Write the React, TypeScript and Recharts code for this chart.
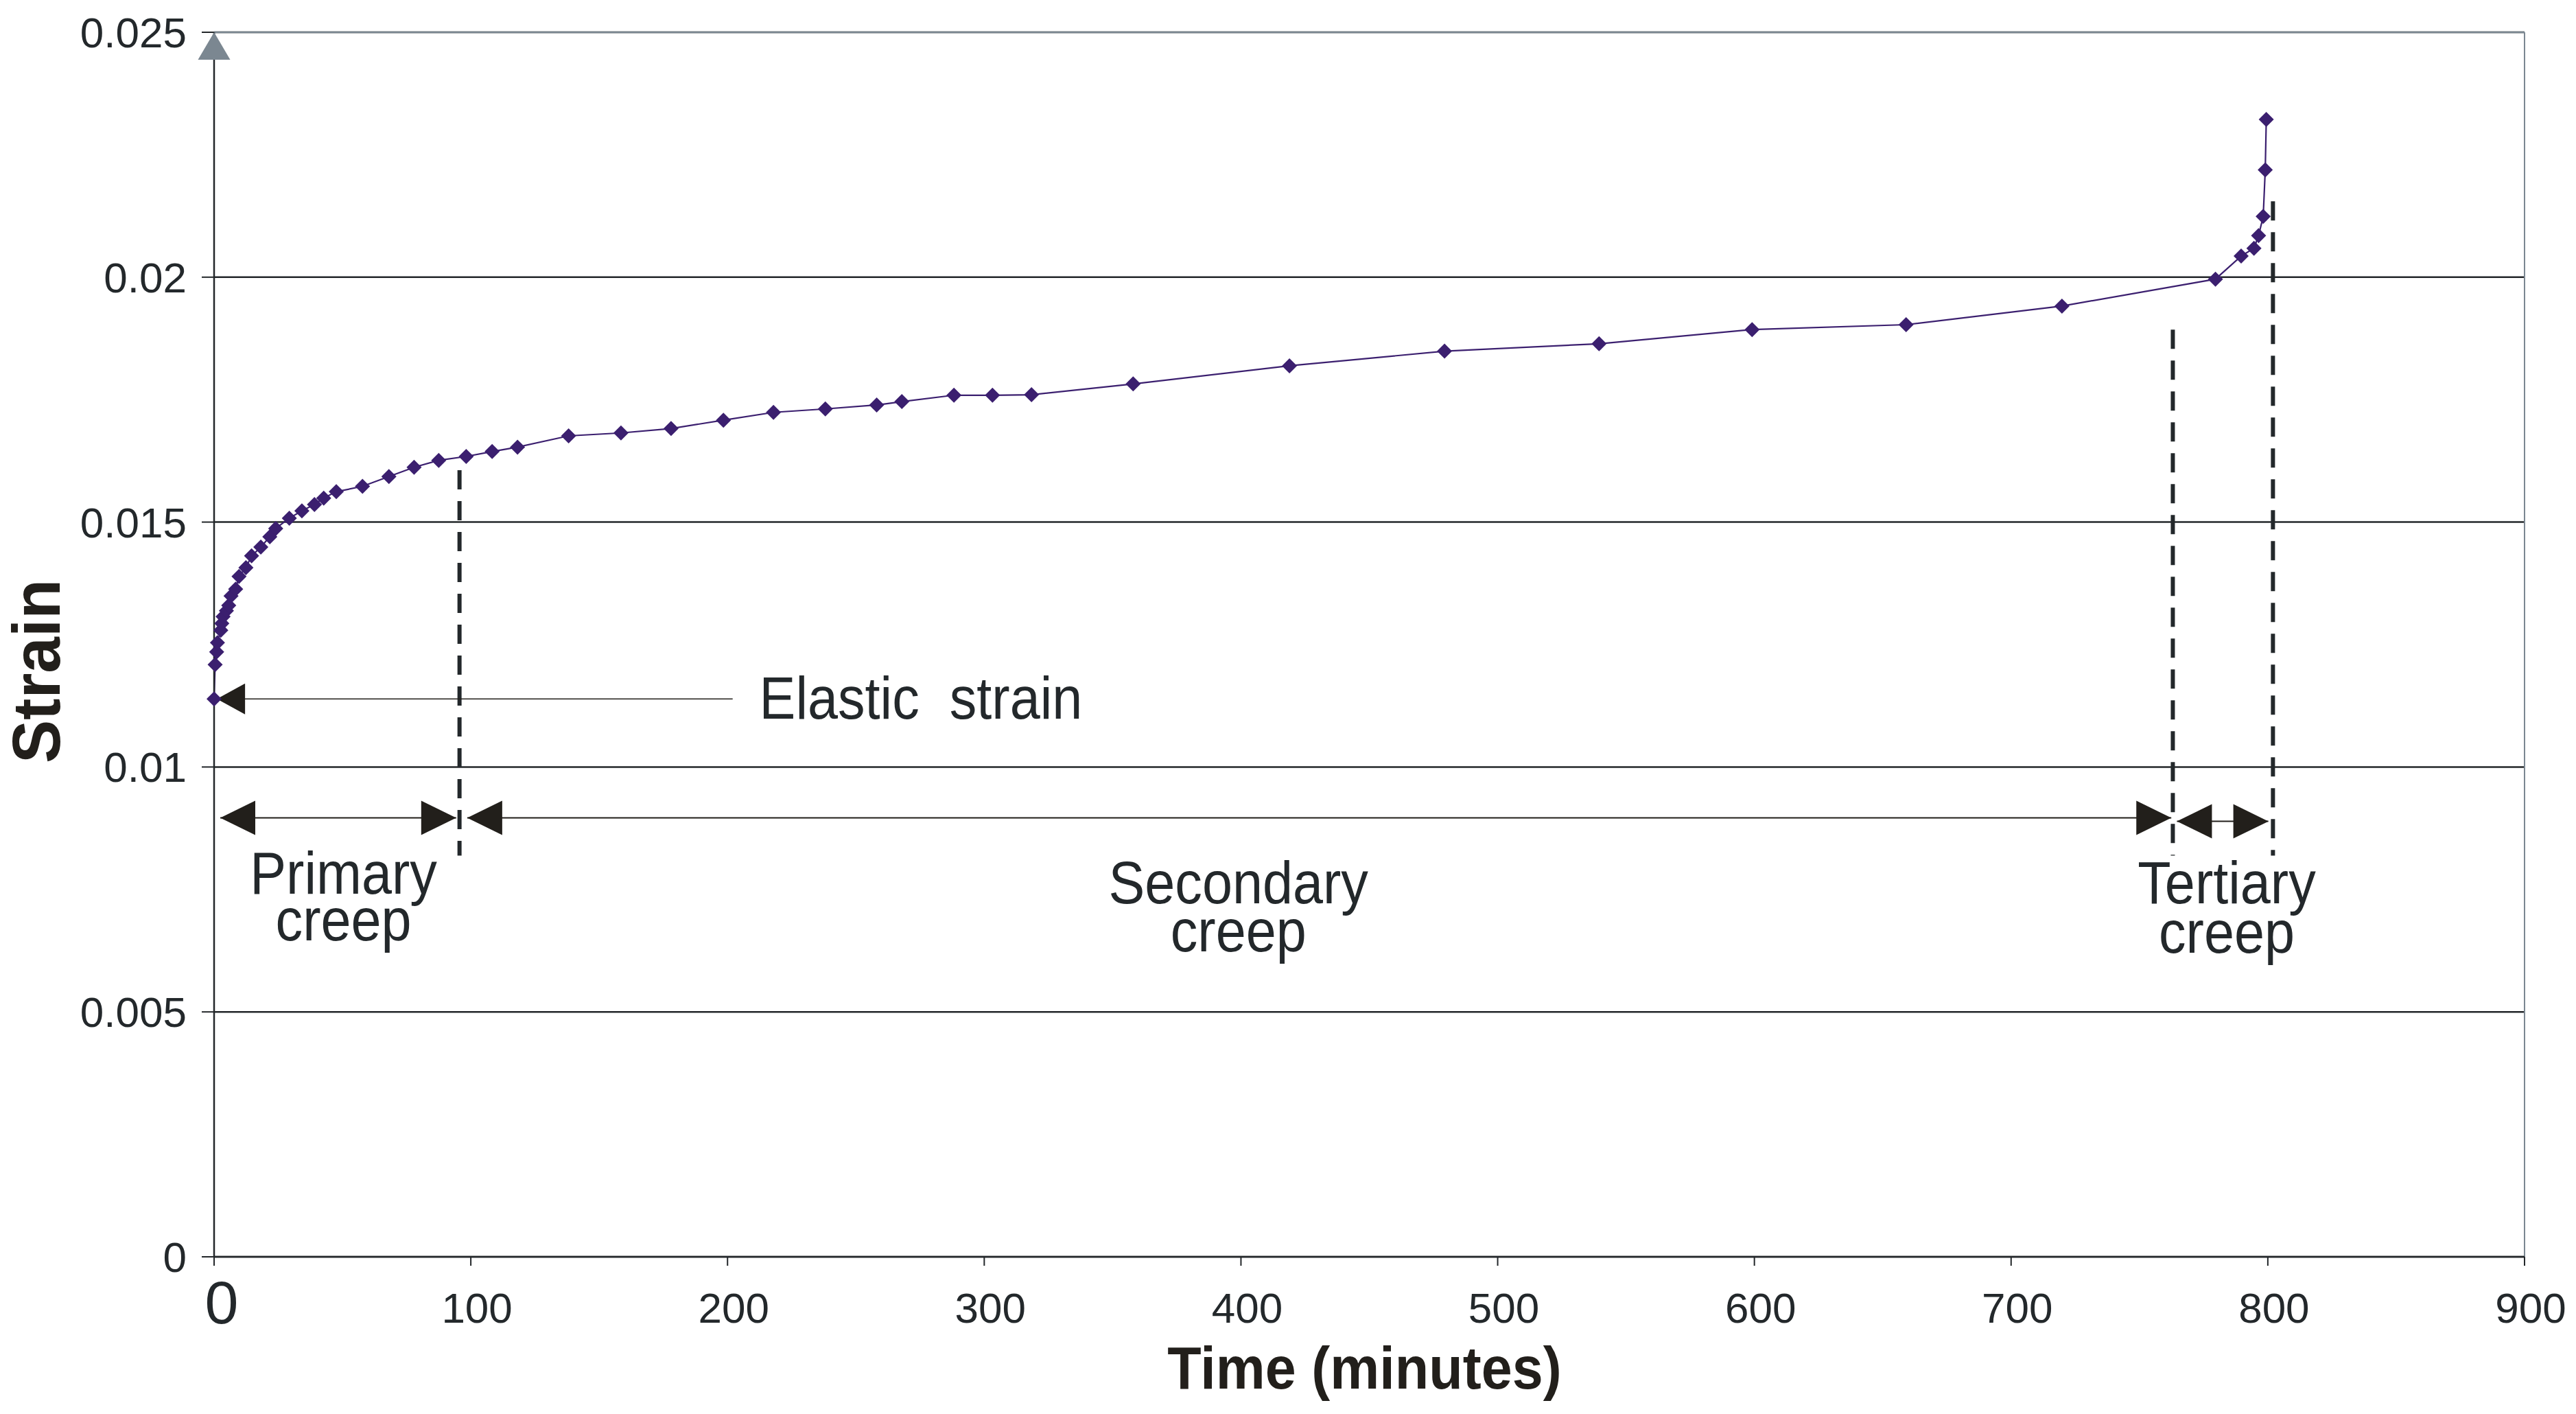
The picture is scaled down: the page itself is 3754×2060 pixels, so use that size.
import React from 'react';
import {
  ComposedChart,
  Line,
  XAxis,
  YAxis,
  CartesianGrid,
  ReferenceLine,
  ReferenceDot,
} from 'recharts';

// ---------- data ----------
const timeMinutes = [
  0, 0.4, 1.0, 1.3, 2.6, 3.0, 3.5, 4.8, 5.7, 6.6,
  8.4, 9.7, 12.4, 14.6, 18.2, 21.7, 24.0, 29.3, 34.2, 39.1,
  42.7, 47.6, 57.8, 68.1, 77.9, 87.5, 98.2, 108.3, 118.2, 138.1,
  158.5, 178.0, 198.4, 217.9, 238.1, 258.1, 267.9, 288.2, 303.2, 318.4,
  358.0, 418.9, 479.3, 539.5, 599.1, 659.1, 719.8, 779.6, 789.6, 794.6,
  796.4, 798.2, 799.0, 799.4,
];
const strainValues = [
  0.01139, 0.01209, 0.01235, 0.01254, 0.01279, 0.01293, 0.01307, 0.01319, 0.0133, 0.01349,
  0.01363, 0.01389, 0.01407, 0.01431, 0.01449, 0.0147, 0.01487, 0.01508, 0.01523, 0.01536,
  0.01549, 0.01562, 0.01573, 0.01593, 0.01612, 0.01626, 0.01634, 0.01644, 0.01653, 0.01676,
  0.01682, 0.01691, 0.01708, 0.01724, 0.01731, 0.01739, 0.01746, 0.01759, 0.01759, 0.0176,
  0.01782, 0.01819, 0.01849, 0.01864, 0.01893, 0.01903, 0.01941, 0.01996, 0.02043, 0.02059,
  0.02085, 0.02124, 0.02219, 0.02322,
];
const xTicks = [0, 100, 200, 300, 400, 500, 600, 700, 800, 900];
const yTicks = [0, 0.005, 0.01, 0.015, 0.02, 0.025];

// phase boundaries (dashed lines)
const boundaryTime = [95.6, 763, 802];
const boundaryTopStrain = [0.01606, 0.01893, 0.02155];
const boundaryBottomStrain = 0.00819;

// elastic strain pointer
const elasticStrain = 0.01139;
const elasticLineFrom = 1.1;
const elasticLineTo = 202;
const elasticText = 'Elastic  strain';
const elasticTextTime = 212.4;
const elasticTextStrain = 0.01098;

// phase arrows
const phaseFrom = [2.4, 98.6, 764.6];
const phaseTo = [94.3, 762.4, 800.2];
const phaseArrowStrain = [0.00896, 0.00896, 0.00889];
const phaseTitles = ['Primary', 'Secondary', 'Tertiary'];
const phaseSubtitle = 'creep';
const phaseTextTime = [50.4, 399, 784];
const phaseLine1Strain = [0.007417, 0.007217, 0.007217];
const phaseLine2Strain = [0.00646, 0.006236, 0.006208];

// arrow heads: tip positions and direction
const arrowTime = [1.1, 2.4, 94.3, 98.6, 762.4, 764.6, 800.2];
const arrowStrain = [0.01139, 0.00896, 0.00896, 0.00896, 0.00896, 0.00889, 0.00889];
const arrowDir = ['left', 'left', 'right', 'left', 'right', 'left', 'right'];

const chartData = timeMinutes.map((t, i) => ({ t, strain: strainValues[i] }));

// ---------- styles ----------
const FONT = '"Liberation Sans", Arial, Helvetica, sans-serif';
const INK = '#23282b';
const ARROW_INK = '#221f1b';
const SERIES = '#3b1f6f';
const BORDER = '#7b8791';
const GRID = '#23272a';

function Diamond(props: any) {
  const { cx, cy, index } = props;
  if (cx == null || cy == null) return <g key={`d${index}`} />;
  const r = 11;
  return (
    <path
      key={`d${index}`}
      d={`M${cx},${cy - r}L${cx + r},${cy}L${cx},${cy + r}L${cx - r},${cy}Z`}
      fill={SERIES}
    />
  );
}

function XTick(props: any) {
  const { x, y, payload } = props;
  const v = payload.value;
  if (v === 0) {
    return (
      <text x={x + 11} y={y + 84} textAnchor="middle" fontSize={88} fontFamily={FONT} fill={INK}>
        0
      </text>
    );
  }
  return (
    <text x={x + 9} y={y + 83} textAnchor="middle" fontSize={62} fontFamily={FONT} fill={INK}>
      {String(v)}
    </text>
  );
}

function YTick(props: any) {
  const { x, y, payload } = props;
  return (
    <text x={x} y={y + 22} textAnchor="end" fontSize={62} fontFamily={FONT} fill={INK}>
      {String(payload.value)}
    </text>
  );
}

function XTitle(props: any) {
  const vb = props.viewBox || { x: 312, y: 1831, width: 3367, height: 229 };
  const cx = vb.x + vb.width / 2 - 7;
  const cy = vb.y + 192;
  return (
    <text
      transform={`translate(${cx},${cy}) scale(0.92,1)`}
      textAnchor="middle"
      fontSize={88}
      fontWeight="bold"
      fontFamily={FONT}
      fill={ARROW_INK}
    >
      Time (minutes)
    </text>
  );
}

function YTitle(props: any) {
  const vb = props.viewBox || { x: 0, y: 47, width: 312, height: 1784 };
  const cx = vb.x + 87;
  const cy = vb.y + vb.height / 2 + 39;
  return (
    <text
      transform={`translate(${cx},${cy}) rotate(-90) scale(0.965,1)`}
      textAnchor="middle"
      fontSize={98}
      fontWeight="bold"
      fontFamily={FONT}
      fill={ARROW_INK}
    >
      Strain
    </text>
  );
}

const arrowShape = (dir: string, small: boolean) => (p: any) => {
  const { cx, cy } = p;
  const L = small ? 41 : 51;
  const H = small ? 22.5 : 25;
  const s = dir === 'left' ? 1 : -1;
  return (
    <polygon
      points={`${cx},${cy} ${cx + s * L},${cy - H} ${cx + s * L},${cy + H}`}
      fill={ARROW_INK}
    />
  );
};

const textShape = (content: string, anchor: string) => (p: any) => {
  const { cx, cy } = p;
  return (
    <text
      transform={`translate(${cx},${cy}) scale(0.91,1)`}
      textAnchor={anchor}
      fontSize={87}
      fontFamily={FONT}
      fill={INK}
      xmlSpace="preserve"
      style={{ whiteSpace: 'pre' }}
    >
      {content}
    </text>
  );
};

const topMarker = (p: any) => {
  const { cx, cy } = p;
  return <polygon points={`${cx},${cy} ${cx - 23.5},${cy + 40} ${cx + 23.5},${cy + 40}`} fill={BORDER} />;
};

export default function App() {
  return (
    <div style={{ position: 'absolute', left: 0, top: 0, width: 3754, height: 2060, background: '#ffffff' }}>
      <ComposedChart
        width={3754}
        height={2060}
        data={chartData}
        margin={{ top: 47, right: 75, bottom: 0, left: 0 }}
      >
        <CartesianGrid horizontal vertical={false} stroke={GRID} strokeWidth={2.5} />
        <XAxis
          dataKey="t"
          type="number"
          domain={[0, 900]}
          ticks={xTicks}
          interval={0}
          height={229}
          tickSize={13}
          tickMargin={0}
          axisLine={{ stroke: GRID, strokeWidth: 2.5 }}
          tickLine={{ stroke: GRID, strokeWidth: 2 }}
          tick={<XTick />}
          label={XTitle}
        />
        <YAxis
          type="number"
          domain={[0, 0.025]}
          ticks={yTicks}
          interval={0}
          width={312}
          tickSize={18}
          tickMargin={22}
          axisLine={{ stroke: GRID, strokeWidth: 2.5 }}
          tickLine={{ stroke: GRID, strokeWidth: 2 }}
          tick={<YTick />}
          label={YTitle}
        />
        <ReferenceLine y={0.025} stroke={BORDER} strokeWidth={2.5} />
        <ReferenceLine x={900} stroke={BORDER} strokeWidth={2} />
        <ReferenceDot x={0} y={0.025} r={0} shape={topMarker} />

        {boundaryTime.map((t, i) => (
          <ReferenceLine
            key={`b${i}`}
            segment={[
              { x: t, y: boundaryTopStrain[i] },
              { x: t, y: boundaryBottomStrain },
            ]}
            stroke={INK}
            strokeWidth={6}
            strokeDasharray="28 17"
          />
        ))}

        <ReferenceLine
          segment={[
            { x: elasticLineFrom, y: elasticStrain },
            { x: elasticLineTo, y: elasticStrain },
          ]}
          stroke={ARROW_INK}
          strokeWidth={1.5}
        />
        {phaseFrom.map((t, i) => (
          <ReferenceLine
            key={`pl${i}`}
            segment={[
              { x: t, y: phaseArrowStrain[i] },
              { x: phaseTo[i], y: phaseArrowStrain[i] },
            ]}
            stroke={ARROW_INK}
            strokeWidth={2}
          />
        ))}
        {arrowTime.map((t, i) => (
          <ReferenceDot key={`a${i}`} x={t} y={arrowStrain[i]} r={0} shape={arrowShape(arrowDir[i], i === 0)} />
        ))}

        <ReferenceDot x={elasticTextTime} y={elasticTextStrain} r={0} shape={textShape(elasticText, 'start')} />
        {phaseTitles.map((title, i) => (
          <ReferenceDot key={`t1${i}`} x={phaseTextTime[i]} y={phaseLine1Strain[i]} r={0} shape={textShape(title, 'middle')} />
        ))}
        {phaseTitles.map((title, i) => (
          <ReferenceDot key={`t2${i}`} x={phaseTextTime[i]} y={phaseLine2Strain[i]} r={0} shape={textShape(phaseSubtitle, 'middle')} />
        ))}

        <Line
          type="linear"
          dataKey="strain"
          stroke={SERIES}
          strokeWidth={2.2}
          dot={Diamond}
          activeDot={false}
          isAnimationActive={false}
        />
      </ComposedChart>
    </div>
  );
}
